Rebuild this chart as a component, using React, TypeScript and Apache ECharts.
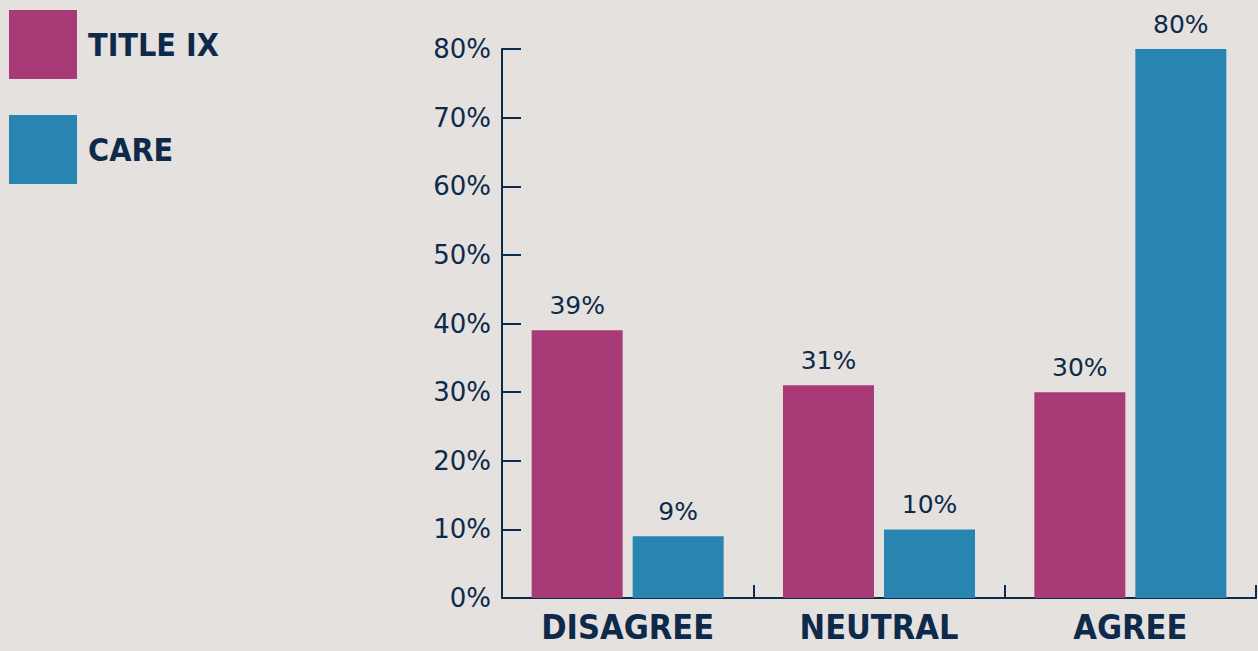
import React, { useEffect, useRef } from "react";
import * as echarts from "echarts";

const categories = ["DISAGREE", "NEUTRAL", "AGREE"];
const titleIX = [39, 31, 30];
const care = [9, 10, 80];
const seriesNames = ["TITLE IX", "CARE"];
const yTicks = { min: 0, max: 80, interval: 10 };

const NAVY = "#0e2a4b";
const MAGENTA = "#a83a78";
const BLUE = "#2884b0";
const BG = "#e5e1de";
const CONDENSED = "'DejaVu Sans Condensed', 'Liberation Sans Narrow', sans-serif";
const NUMFONT = "'DejaVu Sans', sans-serif";

export default function App() {
  const ref = useRef<HTMLDivElement>(null);
  useEffect(() => {
    if (!ref.current) return;
    const chart = echarts.init(ref.current, undefined, { renderer: "svg" });
    const labelStyle = {
      show: true,
      position: "top" as const,
      distance: 12,
      formatter: "{c}%",
      color: NAVY,
      fontFamily: NUMFONT,
      fontSize: 25,
    };
    chart.setOption({
      animation: false,
      backgroundColor: BG,
      legend: {
        orient: "vertical",
        left: 4,
        top: 5,
        itemWidth: 68,
        itemHeight: 69,
        itemGap: 36,
        icon: "rect",
        textStyle: { color: NAVY, fontFamily: CONDENSED, fontWeight: "bold", fontSize: 32, padding: [0, 0, 0, 6] },
        data: seriesNames,
      },
      grid: { left: 502, right: 2, top: 49, bottom: 53, containLabel: false },
      xAxis: {
        type: "category",
        data: categories,
        axisLine: { lineStyle: { color: NAVY, width: 2 } },
        axisTick: { show: true, inside: true, length: 13, lineStyle: { color: NAVY, width: 2 } },
        axisLabel: {
          interval: 0,
          hideOverlap: false,
          color: NAVY,
          fontFamily: CONDENSED,
          fontWeight: "bold",
          fontSize: 34,
          margin: 12,
        },
      },
      yAxis: {
        type: "value",
        min: yTicks.min,
        max: yTicks.max,
        interval: yTicks.interval,
        axisLine: { show: true, lineStyle: { color: NAVY, width: 2 } },
        axisTick: { show: true, inside: true, length: 19, lineStyle: { color: NAVY, width: 2 } },
        splitLine: { show: false },
        axisLabel: { formatter: "{value}%", color: NAVY, fontFamily: NUMFONT, fontSize: 26, margin: 11 },
      },
      series: [
        {
          name: seriesNames[0],
          type: "bar",
          data: titleIX,
          barWidth: 91,
          barGap: "11%",
          itemStyle: { color: MAGENTA },
          label: labelStyle,
        },
        {
          name: seriesNames[1],
          type: "bar",
          data: care,
          barWidth: 91,
          barGap: "11%",
          itemStyle: { color: BLUE },
          label: labelStyle,
        },
      ],
    });
    return () => chart.dispose();
  }, []);
  return <div ref={ref} style={{ width: 1258, height: 651, position: "fixed", left: 0, top: 0 }} />;
}
